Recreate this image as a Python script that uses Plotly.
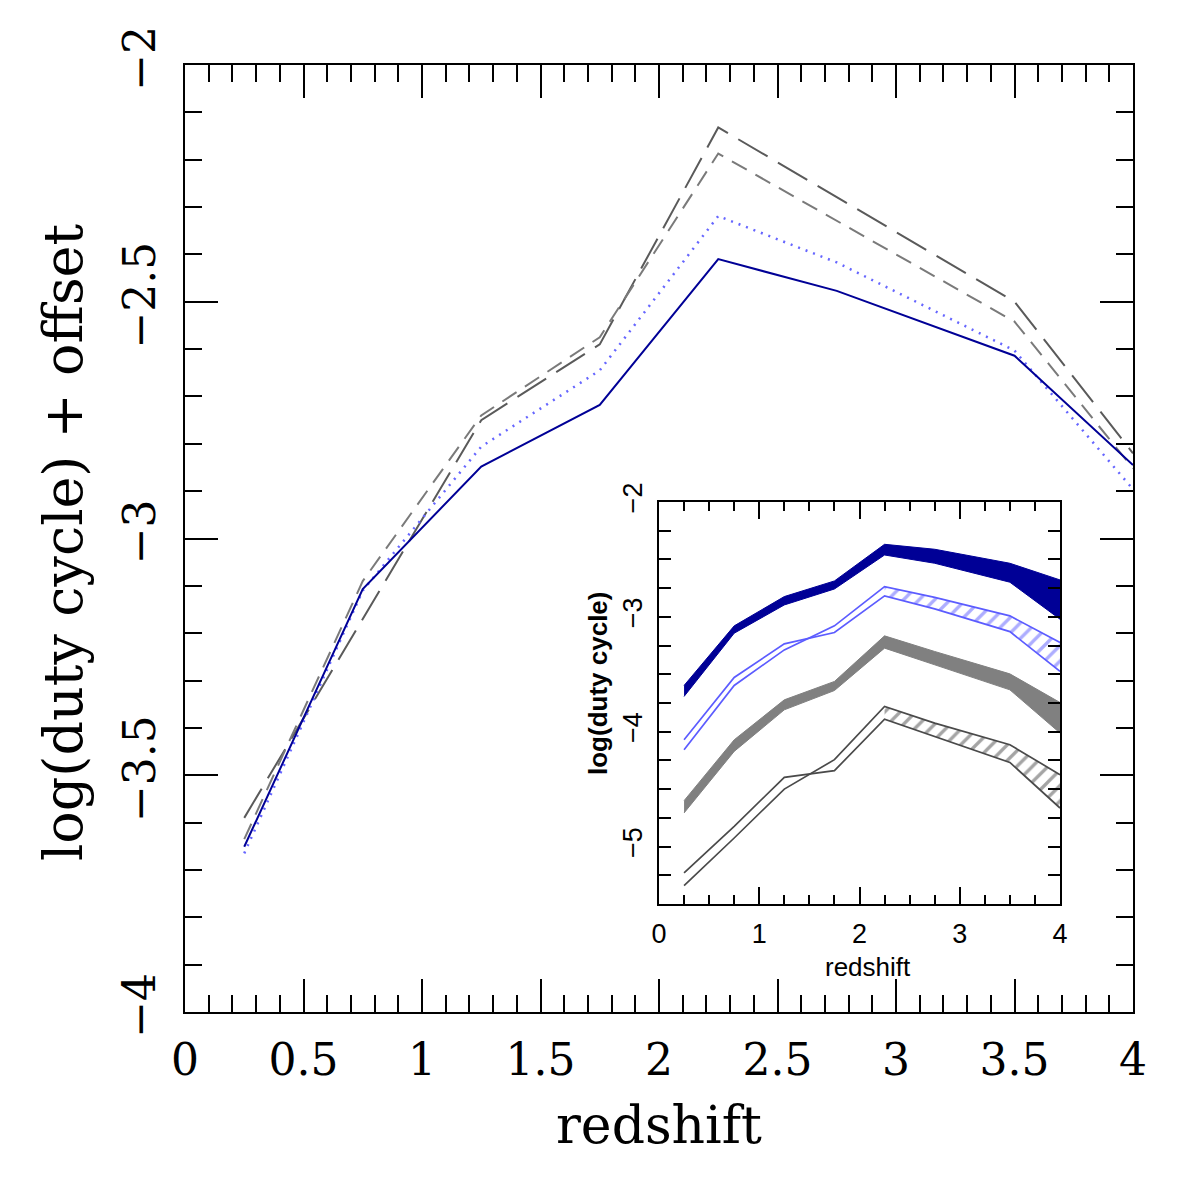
import plotly.graph_objects as go

# ---------------- data ----------------
redshift = [0.25, 0.75, 1.25, 1.75, 2.25, 2.75, 3.5, 4.0]

# main panel: log(duty cycle) + offset
main_solid = [-3.651, -3.107, -2.848, -2.718, -2.410, -2.477, -2.614, -2.845]
main_dotted = [-3.665, -3.110, -2.806, -2.645, -2.319, -2.417, -2.603, -2.896]
main_short_dash = [-3.635, -3.090, -2.740, -2.575, -2.187, -2.329, -2.542, -2.852]
main_long_dash = [-3.590, -3.170, -2.750, -2.590, -2.132, -2.279, -2.500, -2.820]

# inset: log(duty cycle) bands
navy_hi = [-3.597, -3.078, -2.823, -2.687, -2.368, -2.411, -2.533, -2.678]
navy_lo = [-3.693, -3.142, -2.896, -2.757, -2.461, -2.533, -2.698, -3.020]
lblue_a = [-4.070, -3.527, -3.235, -3.136, -2.817, -2.930, -3.128, -3.475]
lblue_b = [-4.157, -3.597, -3.287, -3.078, -2.736, -2.830, -2.991, -3.223]
grey_hi = [-4.600, -4.070, -3.722, -3.562, -3.165, -3.301, -3.496, -3.745]
grey_lo = [-4.707, -4.171, -3.809, -3.641, -3.272, -3.417, -3.635, -4.011]
dgrey_a = [-5.229, -4.823, -4.397, -4.339, -3.890, -4.040, -4.267, -4.664]
dgrey_b = [-5.339, -4.925, -4.499, -4.243, -3.780, -3.925, -4.113, -4.374]
hatch_start = 4  # hatching drawn from z = 2.25 onward

NAVY = "#000096"
LBLUE = "#5c5cff"
GREY = "#808080"
DGREY = "#4a4a4a"

SERIF = "DejaVu Serif"
SANS = "Liberation Sans"

fig = go.Figure()

# ---------------- main panel ----------------
fig.add_trace(go.Scatter(x=redshift, y=main_long_dash, mode="lines",
                         line=dict(color="#5a5a5a", width=2, dash="34px,12px")))
fig.add_trace(go.Scatter(x=redshift, y=main_short_dash, mode="lines",
                         line=dict(color="#7a7a7a", width=2, dash="17px,10px")))
fig.add_trace(go.Scatter(x=redshift, y=main_dotted, mode="lines",
                         line=dict(color="#6666ff", width=2.5, dash="2px,6px")))
fig.add_trace(go.Scatter(x=redshift, y=main_solid, mode="lines",
                         line=dict(color=NAVY, width=2)))


def polygon(xs, a, b):
    return list(xs) + list(xs)[::-1], list(a) + list(b)[::-1]


# ---------------- inset ----------------
px, py = polygon(redshift, navy_hi, navy_lo)
fig.add_trace(go.Scatter(x=px, y=py, mode="lines", fill="toself", fillcolor=NAVY,
                         line=dict(color=NAVY, width=1), xaxis="x2", yaxis="y2"))
px, py = polygon(redshift, grey_hi, grey_lo)
fig.add_trace(go.Scatter(x=px, y=py, mode="lines", fill="toself", fillcolor=GREY,
                         line=dict(color=GREY, width=1), xaxis="x2", yaxis="y2"))

for a, b, col in [(lblue_a, lblue_b, LBLUE), (dgrey_a, dgrey_b, DGREY)]:
    hx = redshift[hatch_start:]
    px, py = polygon(hx, a[hatch_start:], b[hatch_start:])
    fig.add_trace(go.Scatter(x=px, y=py, mode="lines", fill="toself",
                             fillcolor="rgba(0,0,0,0)",
                             fillpattern=dict(shape="/", fgcolor=col,
                                              bgcolor="rgba(255,255,255,0)",
                                              size=11, solidity=0.3),
                             line=dict(width=0), xaxis="x2", yaxis="y2"))
    for s in (a, b):
        fig.add_trace(go.Scatter(x=redshift, y=s, mode="lines",
                                 line=dict(color=col, width=1.7),
                                 xaxis="x2", yaxis="y2"))

# ---------------- axes ----------------
main_axis_common = dict(
    showgrid=False, zeroline=False, showline=True, linecolor="black",
    linewidth=2, mirror="ticks", ticks="inside", ticklen=33, tickwidth=2,
    tickcolor="black", tickfont=dict(family=SERIF, size=44, color="black"),
)
fig.update_layout(
    xaxis=dict(range=[0, 4], domain=[0, 1], tick0=0, dtick=0.5,
               minor=dict(dtick=0.1, ticks="inside", ticklen=17, tickwidth=2,
                          tickcolor="black"),
               ticklabelstandoff=8, **main_axis_common),
    yaxis=dict(range=[-4, -2], domain=[0, 1], tick0=0, dtick=0.5, tickangle=-90,
               minor=dict(dtick=0.1, ticks="inside", ticklen=17, tickwidth=2,
                          tickcolor="black"),
               ticklabelstandoff=10, **main_axis_common),
)

inset_common = dict(
    showgrid=False, zeroline=False, showline=True, linecolor="black",
    linewidth=1.6, mirror="ticks", ticks="inside", tickwidth=1.6,
    tickcolor="black", tickfont=dict(family=SANS, size=27, color="black"),
)
fig.update_layout(
    xaxis2=dict(range=[0, 4], domain=[0.5, 0.923], anchor="y2", tick0=0, dtick=1,
                ticklen=17,
                minor=dict(dtick=0.25, ticks="inside", ticklen=9, tickwidth=1.6,
                           tickcolor="black"),
                ticklabelstandoff=5, **inset_common),
    yaxis2=dict(range=[-5.5, -2], domain=[0.114, 0.5385], anchor="x2", tick0=0,
                dtick=1, ticklen=12, tickangle=-90,
                minor=dict(dtick=0.25, ticks="inside", ticklen=12, tickwidth=1.6,
                           tickcolor="black"),
                ticklabelstandoff=4, **inset_common),
)

# ---------------- titles ----------------
fig.add_annotation(text="redshift", xref="paper", yref="paper", x=0.5, y=-0.1193,
                   xanchor="center", yanchor="middle", showarrow=False,
                   font=dict(family=SERIF, size=52, color="black"))
fig.add_annotation(text="log(duty cycle) + offset", xref="paper", yref="paper",
                   x=-0.1287, y=0.4963, textangle=-90, xanchor="center",
                   yanchor="middle", showarrow=False,
                   font=dict(family=SERIF, size=54, color="black"))
fig.add_annotation(text="redshift", xref="paper", yref="paper", x=0.7205, y=0.0476,
                   xanchor="center", yanchor="middle", showarrow=False,
                   font=dict(family=SANS, size=26, color="black"))
fig.add_annotation(text="<b>log(duty cycle)</b>", xref="paper", yref="paper",
                   x=0.4357, y=0.3464, textangle=-90, xanchor="center",
                   yanchor="middle", showarrow=False,
                   font=dict(family=SANS, size=26, color="black"))

fig.update_layout(
    width=1196, height=1196,
    margin=dict(l=185, r=63, t=65, b=184),
    paper_bgcolor="white", plot_bgcolor="white",
    showlegend=False,
)

fig.write_html("out.html")
